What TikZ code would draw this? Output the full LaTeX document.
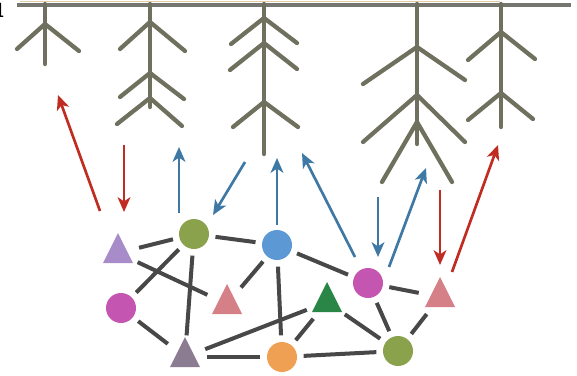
\documentclass[tikz,border=0pt]{standalone}
\usetikzlibrary{arrows.meta}

\definecolor{stemc}{RGB}{112,112,94}
\definecolor{rootline}{RGB}{118,118,112}
\definecolor{tanline}{RGB}{226,204,166}
\definecolor{linkc}{RGB}{72,72,72}
\definecolor{redc}{RGB}{192,44,34}
\definecolor{bluec}{RGB}{62,120,165}
\definecolor{lavender}{RGB}{168,140,202}
\definecolor{olive}{RGB}{138,162,76}
\definecolor{skyblue}{RGB}{92,152,212}
\definecolor{magentac}{RGB}{196,86,178}
\definecolor{rose}{RGB}{212,128,134}
\definecolor{mauve}{RGB}{140,124,146}
\definecolor{orangec}{RGB}{240,160,82}
\definecolor{forest}{RGB}{42,134,70}

% filled triangle (centroid at #3,#4) with an invisible hub node for the links
\newcommand\trinode[4]{%
  \fill[#2] (#3-15,#4+10) -- (#3+15,#4+10) -- (#3,#4-20) -- cycle;
  \node[hub] (#1) at (#3,#4) {};
}

\begin{document}
\begin{tikzpicture}[x=0.75pt,y=-0.75pt,
  stem/.style={draw=stemc, line width=3.2pt, line cap=round},
  link/.style={draw=linkc, line width=3pt},
  hub/.style={circle, minimum size=22.5pt, inner sep=0pt, outer sep=5pt},
  ball/.style={hub, fill=#1},
  tip/.style={-{Stealth[length=11pt,width=9.5pt,inset=3pt]}},
  redarrow/.style={draw=redc, line width=2pt, tip},
  bluearrow/.style={draw=bluec, line width=2pt, tip}]

\useasboundingbox (0,0) rectangle (577,375);
\fill[white] (0,0) rectangle (577,375);

% panel label, cut at the left edge
\node[anchor=north east, inner sep=0pt, font=\sffamily\bfseries\fontsize{15}{15}\selectfont] (lbl) at (5.5,3) {1};

% ground line
\draw[tanline, line width=1.2pt] (20,1.6) -- (500,1.6);
\draw[rootline, line width=3pt] (17,4.5) -- (571,4.5);

% tree 1
\draw[stem] (45,4) -- (45,64);
\draw[stem] (17,49) -- (45,24) -- (79,51);
% tree 2
\draw[stem] (150,4) -- (150,107);
\draw[stem] (120,49) -- (150,22) -- (185,51);
\draw[stem] (120,97) -- (150,73) -- (184,99);
\draw[stem] (117,124) -- (150,98) -- (182,126);
% tree 3
\draw[stem] (264,4) -- (264,154);
\draw[stem] (231,44) -- (264,18) -- (297,43);
\draw[stem] (230,70) -- (264,43) -- (297,69);
\draw[stem] (233,127) -- (264,102) -- (298,127);
% tree 4
\draw[stem] (417,4) -- (417,144);
\draw[stem] (363,84) -- (417,47) -- (465,80);
\draw[stem] (363,142) -- (417,95) -- (465,142);
\draw[stem] (382,182) -- (417,122) -- (452,182);
% tree 5
\draw[stem] (501,4) -- (501,127);
\draw[stem] (468,60) -- (501,32) -- (535,59);
\draw[stem] (468,120) -- (501,93) -- (533,119);

% network nodes
\trinode{p1}{lavender}{118}{253}
\node[ball=olive] (g1) at (194,234) {};
\node[ball=skyblue] (b1) at (277,245) {};
\node[ball=magentac] (m1) at (121,308) {};
\trinode{t2}{rose}{227}{304}
\trinode{t3}{mauve}{185}{357}
\node[ball=orangec] (o1) at (282,357) {};
\trinode{t4}{forest}{327}{302}
\node[ball=magentac] (m2) at (368,283) {};
\trinode{t5}{rose}{440}{297}
\node[ball=olive] (g2) at (398,351) {};

% links
\draw[link] (p1) -- (g1);
\draw[link] (g1) -- (b1);
\draw[link] (p1) -- (t2);
\draw[link] (g1) -- (m1);
\draw[link] (g1) -- (t3);
\draw[link] (m1) -- (t3);
\draw[link] (b1) -- (t2);
\draw[link] (b1) -- (o1);
\draw[link] (b1) -- (m2);
\draw[link] (t3) -- (t4);
\draw[link] (t3) -- (o1);
\draw[link] (o1) -- (t4);
\draw[link] (o1) -- (g2);
\draw[link] (t4) -- (g2);
\draw[link] (m2) -- (g2);
\draw[link] (m2) -- (t5);
\draw[link] (t5) -- (g2);

% arrow end points
\coordinate (a1s) at (100,211); \coordinate (a1e) at (58,95);
\coordinate (a2s) at (124,145); \coordinate (a2e) at (124,212);
\coordinate (a3s) at (440,190); \coordinate (a3e) at (440,265);
\coordinate (a4s) at (452,272); \coordinate (a4e) at (498,145);
\coordinate (b1s) at (179,213); \coordinate (b1e) at (179,147);
\coordinate (b2s) at (245,162); \coordinate (b2e) at (213,215);
\coordinate (b3s) at (277,225); \coordinate (b3e) at (277,158);
\coordinate (b4s) at (355,257); \coordinate (b4e) at (302,153);
\coordinate (b5s) at (378,197); \coordinate (b5e) at (378,257);
\coordinate (b6s) at (389,267); \coordinate (b6e) at (426,168);

% signals between roots and network
\draw[redarrow] (a1s) -- (a1e);
\draw[redarrow] (a2s) -- (a2e);
\draw[redarrow] (a3s) -- (a3e);
\draw[redarrow] (a4s) -- (a4e);
\draw[bluearrow] (b1s) -- (b1e);
\draw[bluearrow] (b2s) -- (b2e);
\draw[bluearrow] (b3s) -- (b3e);
\draw[bluearrow] (b4s) -- (b4e);
\draw[bluearrow] (b5s) -- (b5e);
\draw[bluearrow] (b6s) -- (b6e);
\end{tikzpicture}
\end{document}
